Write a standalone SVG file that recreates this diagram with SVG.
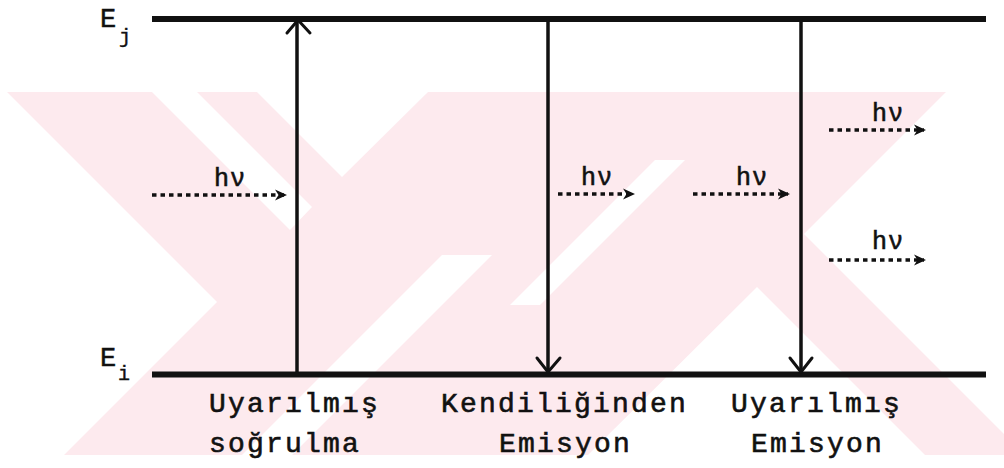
<svg xmlns="http://www.w3.org/2000/svg" width="1004" height="468" viewBox="0 0 1004 468">
  <style>
    .wm { fill: #fdeaee; stroke: none; }
    .wmw { fill: #ffffff; stroke: none; }
    .level { stroke: #111; stroke-width: 6; fill: none; }
    .trans { stroke: #111; stroke-width: 3.5; fill: none; }
    .head { stroke: #111; stroke-width: 3; fill: none; stroke-linecap: round; stroke-linejoin: round; }
    .photon { stroke: #111; stroke-width: 3.5; stroke-dasharray: 4.5 4; fill: none; }
    .lbl { font-family: "Liberation Mono", "DejaVu Sans Mono", monospace; font-size: 28px; letter-spacing: 2.2px; fill: #111; stroke: #111; stroke-width: 0.6; }
    .hv { font-family: "Liberation Mono", "DejaVu Sans Mono", monospace; font-size: 25px; letter-spacing: 1px; fill: #111; stroke: #111; stroke-width: 0.6; text-anchor: middle; }
    .en { font-family: "Liberation Mono", "DejaVu Sans Mono", monospace; font-size: 27px; fill: #111; stroke: #111; stroke-width: 0.5; }
    .sub { font-family: "Liberation Mono", "DejaVu Sans Mono", monospace; font-size: 20px; fill: #111; stroke: #111; stroke-width: 0.4; }
  </style>
  <defs>
    <marker id="ph" viewBox="0 0 12 12" refX="10" refY="6" markerWidth="12" markerHeight="12" orient="auto" markerUnits="userSpaceOnUse">
      <path d="M0,0.5 L12,6 L0,11.5 L3.5,6 Z" fill="#111"/>
    </marker>
  </defs>
  <rect width="1004" height="468" fill="#ffffff"/>
  <g id="watermark">
    <rect class="wm" x="0" y="92" width="1004" height="363"/>
    <polygon class="wmw" points="0,92 7,92 217,302 64,455 0,455"/>
    <polygon class="wmw" points="152,92 197,92 312,207 290,230"/>
    <polygon class="wmw" points="257,92 428,92 342,177"/>
    <polygon class="wmw" points="242,455 292,455 492,255 442,255"/>
    <polygon class="wmw" points="655,160 685,160 540,305 510,305"/>
    <polygon class="wmw" points="946,92 1004,92 1004,434 804,234"/>
    <polygon class="wmw" points="757,287 588,455 925,455"/>
  </g>
  <g id="level-j">
    <line class="level" x1="152" y1="19" x2="986" y2="19"/>
    <text class="en" x="100" y="27">E</text>
    <text class="sub" x="119" y="43">j</text>
  </g>
  <g id="level-i">
    <line class="level" x1="152" y1="374.5" x2="986" y2="374.5"/>
    <text class="en" x="100" y="366">E</text>
    <text class="sub" x="118" y="380">i</text>
  </g>
  <g id="connectors">
    <line class="trans" x1="297" y1="374" x2="297" y2="21"/>
    <polyline class="head" points="287,33 298,20 310,33"/>
    <line class="trans" x1="548" y1="19" x2="548" y2="371"/>
    <polyline class="head" points="537,358 548,372 560,358"/>
    <line class="trans" x1="801" y1="19" x2="801" y2="371"/>
    <polyline class="head" points="790,358 801,372 812,358"/>
    <line class="photon" x1="152" y1="195" x2="285" y2="195" marker-end="url(#ph)"/>
    <line class="photon" x1="558" y1="194" x2="633" y2="194" marker-end="url(#ph)"/>
    <line class="photon" x1="693" y1="194" x2="788" y2="194" marker-end="url(#ph)"/>
    <line class="photon" x1="829" y1="130" x2="924" y2="130" marker-end="url(#ph)"/>
    <line class="photon" x1="829" y1="260" x2="924" y2="260" marker-end="url(#ph)"/>
  </g>
  <g id="photon-labels">
    <text class="hv" x="230" y="186">hν</text>
    <text class="hv" x="597" y="185">hν</text>
    <text class="hv" x="752" y="185">hν</text>
    <text class="hv" x="888" y="121">hν</text>
    <text class="hv" x="888" y="249">hν</text>
  </g>
  <g id="absorption">
    <text class="lbl" x="209" y="412">Uyarılmış</text>
    <text class="lbl" x="209" y="452">soğrulma</text>
  </g>
  <g id="spontaneous">
    <text class="lbl" x="441" y="412">Kendiliğinden</text>
    <text class="lbl" x="499" y="452">Emisyon</text>
  </g>
  <g id="stimulated">
    <text class="lbl" x="731" y="412">Uyarılmış</text>
    <text class="lbl" x="751" y="452">Emisyon</text>
  </g>
</svg>
